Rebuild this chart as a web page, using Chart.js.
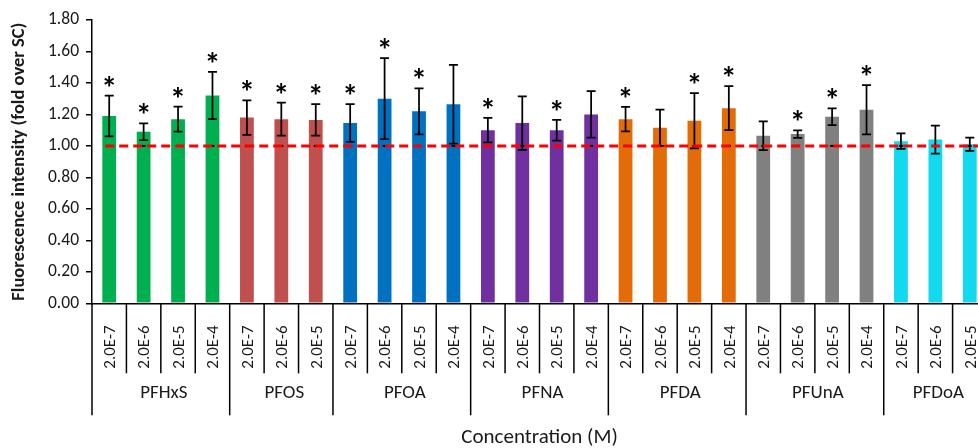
<!DOCTYPE html>
<html>
<head>
<meta charset="utf-8">
<script src="https://cdn.jsdelivr.net/npm/chart.js@4/dist/chart.umd.min.js"></script>
<style>
  html, body { margin: 0; padding: 0; background: #fff; overflow: hidden; }
  #wrap { width: 988px; height: 448px; }
</style>
</head>
<body>
<div id="wrap"><canvas id="c" width="988" height="448"></canvas></div>
<script>
// ---- data ----
const groupNames = ['PFHxS', 'PFOS', 'PFOA', 'PFNA', 'PFDA', 'PFUnA', 'PFDoA'];
const groupSizes = [4, 3, 4, 4, 4, 4, 3];
const concentrationLabels = [
  '2.0E-7', '2.0E-6', '2.0E-5', '2.0E-4',
  '2.0E-7', '2.0E-6', '2.0E-5',
  '2.0E-7', '2.0E-6', '2.0E-5', '2.0E-4',
  '2.0E-7', '2.0E-6', '2.0E-5', '2.0E-4',
  '2.0E-7', '2.0E-6', '2.0E-5', '2.0E-4',
  '2.0E-7', '2.0E-6', '2.0E-5', '2.0E-4',
  '2.0E-7', '2.0E-6', '2.0E-5'
];
const meanValues = [
  1.19, 1.09, 1.17, 1.32,
  1.18, 1.17, 1.165,
  1.145, 1.30, 1.22, 1.265,
  1.10, 1.145, 1.10, 1.20,
  1.17, 1.115, 1.16, 1.24,
  1.065, 1.075, 1.185, 1.23,
  1.03, 1.04, 1.01
];
const errorValues = [
  0.13, 0.053, 0.08, 0.15,
  0.11, 0.105, 0.10,
  0.12, 0.257, 0.146, 0.25,
  0.078, 0.17, 0.066, 0.148,
  0.078, 0.115, 0.176, 0.14,
  0.091, 0.024, 0.053, 0.156,
  0.049, 0.089, 0.042
];
const significant = [
  1, 1, 1, 1,
  1, 1, 1,
  1, 1, 1, 0,
  1, 0, 1, 0,
  1, 0, 1, 1,
  0, 1, 1, 1,
  0, 0, 0
];
const baselineValue = 1.0;
const yTicksMin = 0, yTicksMax = 1.8, yTicksStep = 0.2;

// ---- styles ----
const groupColors = ['#00B050', '#C0504D', '#0070C0', '#7030A0', '#E36C09', '#808080', '#13D9EE'];
const FONT = "Carlito, Lato, 'Liberation Sans', sans-serif";
const TEXT = '#1a1a1a';

const barColors = [];
groupSizes.forEach((n, g) => { for (let k = 0; k < n; k++) barColors.push(groupColors[g]); });

const extrasPlugin = {
  id: 'extras',
  afterDatasetsDraw(chart) {
    const ctx = chart.ctx;
    const x = chart.scales.x, y = chart.scales.y;
    ctx.save();
    // error bars
    ctx.strokeStyle = '#000';
    ctx.lineWidth = 1.75;
    meanValues.forEach((m, i) => {
      const cx = x.getPixelForValue(i);
      const yt = y.getPixelForValue(m + errorValues[i]);
      const yb = y.getPixelForValue(m - errorValues[i]);
      ctx.beginPath();
      ctx.moveTo(cx, yt); ctx.lineTo(cx, yb);
      ctx.moveTo(cx - 4.5, yt); ctx.lineTo(cx + 4.5, yt);
      ctx.moveTo(cx - 4.5, yb); ctx.lineTo(cx + 4.5, yb);
      ctx.stroke();
      if (significant[i]) {
        ctx.fillStyle = '#000';
        ctx.font = 'bold 32px ' + FONT;
        ctx.textAlign = 'center';
        ctx.textBaseline = 'alphabetic';
        ctx.fillText('*', cx, yt + 3);
      }
    });
    // baseline markers
    const by = y.getPixelForValue(baselineValue);
    ctx.lineWidth = 2;
    meanValues.forEach((m, i) => {
      const cx = x.getPixelForValue(i);
      ctx.beginPath(); ctx.moveTo(cx - 2, by); ctx.lineTo(cx + 2, by); ctx.stroke();
    });
    // red dashed reference line
    ctx.strokeStyle = '#FF0000';
    ctx.lineWidth = 3;
    ctx.setLineDash([9, 5]);
    ctx.beginPath();
    ctx.moveTo(x.getPixelForValue(0) - 4, by);
    ctx.lineTo(chart.chartArea.right, by);
    ctx.stroke();
    ctx.setLineDash([]);
    ctx.restore();
  },
  afterDraw(chart) {
    const ctx = chart.ctx;
    const x = chart.scales.x;
    const top = chart.chartArea.bottom;
    const slot = x.getPixelForValue(1) - x.getPixelForValue(0);
    ctx.save();
    ctx.strokeStyle = '#000';
    ctx.lineWidth = 1.5;
    // separators
    let idx = 0;
    const groupStart = [];
    groupSizes.forEach((n) => { groupStart.push(idx); idx += n; });
    for (let i = 0; i <= concentrationLabels.length; i++) {
      const bx = x.getPixelForValue(i) - slot / 2;
      const isGroup = groupStart.includes(i) || i === concentrationLabels.length;
      ctx.beginPath();
      ctx.moveTo(bx, top);
      ctx.lineTo(bx, top + (isGroup ? 112 : 70));
      ctx.stroke();
    }
    // concentration labels
    ctx.fillStyle = TEXT;
    ctx.font = '17px ' + FONT;
    concentrationLabels.forEach((lab, i) => {
      const cx = x.getPixelForValue(i) + 1.5;
      ctx.save();
      ctx.translate(cx, top + 22);
      ctx.rotate(-Math.PI / 2);
      ctx.textAlign = 'right';
      ctx.textBaseline = 'middle';
      ctx.fillText(lab, 0, 0);
      ctx.restore();
    });
    // group labels
    ctx.font = '19px ' + FONT;
    ctx.textAlign = 'center';
    ctx.textBaseline = 'middle';
    groupNames.forEach((g, k) => {
      const s = groupStart[k], n = groupSizes[k];
      const cx = (x.getPixelForValue(s) + x.getPixelForValue(s + n - 1)) / 2 + 3;
      ctx.fillText(g, cx, top + 90);
    });
    ctx.restore();
  }
};

new Chart(document.getElementById('c'), {
  type: 'bar',
  data: {
    labels: concentrationLabels,
    datasets: [{
      data: meanValues,
      backgroundColor: barColors,
      borderWidth: 0,
      barPercentage: 0.4,
      categoryPercentage: 1.0
    }]
  },
  options: {
    responsive: false,
    animation: false,
    events: [],
    layout: { padding: { top: 20, right: 1, left: 0, bottom: 0 } },
    plugins: { legend: { display: false }, tooltip: { enabled: false } },
    scales: {
      x: {
        type: 'category',
        offset: true,
        grid: { display: false },
        border: { display: true, color: '#000', width: 1.5 },
        ticks: { display: false },
        title: {
          display: true,
          text: 'Concentration (M)',
          color: TEXT,
          font: { family: FONT, size: 21, lineHeight: 1.0 },
          padding: { top: 0, bottom: 0 }
        },
        afterFit(scale) { scale.height = 144.7; }
      },
      y: {
        min: yTicksMin,
        max: yTicksMax,
        grid: { drawOnChartArea: false, drawTicks: true, tickLength: 6, color: '#000', lineWidth: 1.5 },
        border: { display: true, color: '#000', width: 1.5 },
        ticks: {
          stepSize: yTicksStep,
          color: TEXT,
          padding: 7,
          font: { family: FONT, size: 17.5 },
          callback: (v) => Number(v).toFixed(2)
        },
        title: {
          display: true,
          text: 'Fluorescence intensity (fold over SC)',
          color: TEXT,
          font: { family: FONT, size: 18.5, weight: 'bold' },
          padding: { top: 8, bottom: 0 }
        },
        afterFit(scale) { scale.width = 92; }
      }
    }
  },
  plugins: [extrasPlugin]
});
</script>
</body>
</html>
